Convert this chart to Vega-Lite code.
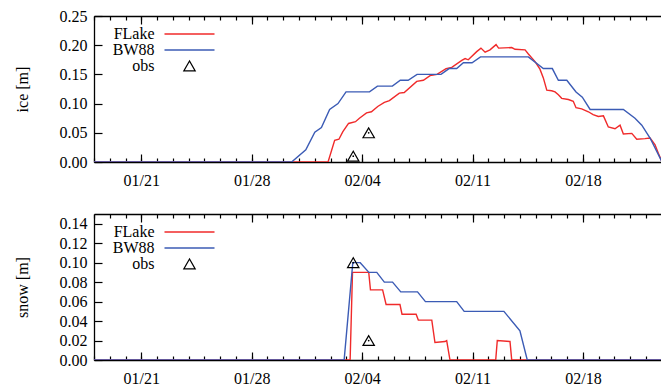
{
  "$schema": "https://vega.github.io/schema/vega-lite/v6.json",
  "background": "white",
  "padding": {"left": 14, "top": 8, "right": 0, "bottom": 0},
  "config": {
    "view": {"stroke": null},
    "font": "Liberation Serif",
    "axis": {"labelFont": "Liberation Serif", "labelFontSize": 16, "labelColor": "black", "titleFont": "Liberation Serif", "titleFontSize": 16, "titleFontWeight": "normal", "titleColor": "black", "domainColor": "black", "tickColor": "black", "domainWidth": 1.3, "tickWidth": 1.2, "grid": false, "zindex": 1},
    "legend": {"labelFont": "Liberation Serif", "labelFontSize": 16, "labelColor": "black"},
    "concat": {"spacing": 25}
  },
  "datasets": {
    "ice": [
      {"t": "2018-01-18T00:00", "v": 0, "s": "FLake"},
      {"t": "2018-02-01T20:10", "v": 0, "s": "FLake"},
      {"t": "2018-02-02T06:14", "v": 0.037, "s": "FLake"},
      {"t": "2018-02-02T12:43", "v": 0.039, "s": "FLake"},
      {"t": "2018-02-02T18:43", "v": 0.052, "s": "FLake"},
      {"t": "2018-02-03T03:22", "v": 0.066, "s": "FLake"},
      {"t": "2018-02-03T13:55", "v": 0.069, "s": "FLake"},
      {"t": "2018-02-03T19:55", "v": 0.075, "s": "FLake"},
      {"t": "2018-02-04T06:43", "v": 0.084, "s": "FLake"},
      {"t": "2018-02-04T14:10", "v": 0.086, "s": "FLake"},
      {"t": "2018-02-04T23:46", "v": 0.095, "s": "FLake"},
      {"t": "2018-02-05T09:50", "v": 0.102, "s": "FLake"},
      {"t": "2018-02-05T17:31", "v": 0.105, "s": "FLake"},
      {"t": "2018-02-06T08:38", "v": 0.118, "s": "FLake"},
      {"t": "2018-02-06T16:05", "v": 0.119, "s": "FLake"},
      {"t": "2018-02-07T11:08", "v": 0.138, "s": "FLake"},
      {"t": "2018-02-07T21:13", "v": 0.14, "s": "FLake"},
      {"t": "2018-02-08T07:24", "v": 0.148, "s": "FLake"},
      {"t": "2018-02-08T18:00", "v": 0.15, "s": "FLake"},
      {"t": "2018-02-09T07:44", "v": 0.16, "s": "FLake"},
      {"t": "2018-02-09T16:29", "v": 0.162, "s": "FLake"},
      {"t": "2018-02-10T07:42", "v": 0.174, "s": "FLake"},
      {"t": "2018-02-10T12:44", "v": 0.177, "s": "FLake"},
      {"t": "2018-02-10T17:32", "v": 0.175, "s": "FLake"},
      {"t": "2018-02-11T06:22", "v": 0.189, "s": "FLake"},
      {"t": "2018-02-11T12:50", "v": 0.195, "s": "FLake"},
      {"t": "2018-02-11T19:11", "v": 0.188, "s": "FLake"},
      {"t": "2018-02-12T02:37", "v": 0.192, "s": "FLake"},
      {"t": "2018-02-12T11:50", "v": 0.201, "s": "FLake"},
      {"t": "2018-02-12T15:41", "v": 0.195, "s": "FLake"},
      {"t": "2018-02-13T11:42", "v": 0.196, "s": "FLake"},
      {"t": "2018-02-13T16:44", "v": 0.193, "s": "FLake"},
      {"t": "2018-02-14T07:58", "v": 0.192, "s": "FLake"},
      {"t": "2018-02-14T13:00", "v": 0.185, "s": "FLake"},
      {"t": "2018-02-14T23:11", "v": 0.172, "s": "FLake"},
      {"t": "2018-02-15T06:37", "v": 0.159, "s": "FLake"},
      {"t": "2018-02-15T11:46", "v": 0.144, "s": "FLake"},
      {"t": "2018-02-15T17:02", "v": 0.123, "s": "FLake"},
      {"t": "2018-02-16T00:29", "v": 0.122, "s": "FLake"},
      {"t": "2018-02-16T05:37", "v": 0.12, "s": "FLake"},
      {"t": "2018-02-16T10:40", "v": 0.115, "s": "FLake"},
      {"t": "2018-02-16T15:42", "v": 0.109, "s": "FLake"},
      {"t": "2018-02-17T01:53", "v": 0.107, "s": "FLake"},
      {"t": "2018-02-17T09:19", "v": 0.104, "s": "FLake"},
      {"t": "2018-02-17T13:30", "v": 0.093, "s": "FLake"},
      {"t": "2018-02-17T22:08", "v": 0.091, "s": "FLake"},
      {"t": "2018-02-18T08:19", "v": 0.086, "s": "FLake"},
      {"t": "2018-02-18T15:31", "v": 0.081, "s": "FLake"},
      {"t": "2018-02-18T23:26", "v": 0.078, "s": "FLake"},
      {"t": "2018-02-19T07:13", "v": 0.079, "s": "FLake"},
      {"t": "2018-02-19T14:40", "v": 0.06, "s": "FLake"},
      {"t": "2018-02-20T00:50", "v": 0.057, "s": "FLake"},
      {"t": "2018-02-20T08:31", "v": 0.063, "s": "FLake"},
      {"t": "2018-02-20T13:34", "v": 0.048, "s": "FLake"},
      {"t": "2018-02-21T02:23", "v": 0.049, "s": "FLake"},
      {"t": "2018-02-21T09:55", "v": 0.039, "s": "FLake"},
      {"t": "2018-02-21T22:24", "v": 0.04, "s": "FLake"},
      {"t": "2018-02-22T06:11", "v": 0.041, "s": "FLake"},
      {"t": "2018-02-22T13:37", "v": 0.03, "s": "FLake"},
      {"t": "2018-02-22T18:46", "v": 0.015, "s": "FLake"},
      {"t": "2018-02-23T00:30", "v": 0, "s": "FLake"},
      {"t": "2018-01-18T00:00", "v": 0, "s": "BW88"},
      {"t": "2018-01-30T12:43", "v": 0, "s": "BW88"},
      {"t": "2018-01-31T10:19", "v": 0.021, "s": "BW88"},
      {"t": "2018-02-01T00:00", "v": 0.051, "s": "BW88"},
      {"t": "2018-02-01T10:05", "v": 0.059, "s": "BW88"},
      {"t": "2018-02-01T22:34", "v": 0.09, "s": "BW88"},
      {"t": "2018-02-02T11:17", "v": 0.1, "s": "BW88"},
      {"t": "2018-02-02T23:31", "v": 0.12, "s": "BW88"},
      {"t": "2018-02-04T11:17", "v": 0.12, "s": "BW88"},
      {"t": "2018-02-04T23:17", "v": 0.13, "s": "BW88"},
      {"t": "2018-02-05T22:05", "v": 0.13, "s": "BW88"},
      {"t": "2018-02-06T10:05", "v": 0.14, "s": "BW88"},
      {"t": "2018-02-06T22:05", "v": 0.14, "s": "BW88"},
      {"t": "2018-02-07T11:37", "v": 0.15, "s": "BW88"},
      {"t": "2018-02-09T00:04", "v": 0.15, "s": "BW88"},
      {"t": "2018-02-09T12:20", "v": 0.16, "s": "BW88"},
      {"t": "2018-02-09T23:55", "v": 0.16, "s": "BW88"},
      {"t": "2018-02-10T10:06", "v": 0.17, "s": "BW88"},
      {"t": "2018-02-10T23:20", "v": 0.17, "s": "BW88"},
      {"t": "2018-02-11T12:07", "v": 0.18, "s": "BW88"},
      {"t": "2018-02-14T13:00", "v": 0.18, "s": "BW88"},
      {"t": "2018-02-15T11:46", "v": 0.16, "s": "BW88"},
      {"t": "2018-02-16T01:28", "v": 0.16, "s": "BW88"},
      {"t": "2018-02-16T10:40", "v": 0.14, "s": "BW88"},
      {"t": "2018-02-16T23:29", "v": 0.14, "s": "BW88"},
      {"t": "2018-02-17T13:30", "v": 0.12, "s": "BW88"},
      {"t": "2018-02-17T23:06", "v": 0.111, "s": "BW88"},
      {"t": "2018-02-18T10:58", "v": 0.09, "s": "BW88"},
      {"t": "2018-02-20T13:34", "v": 0.09, "s": "BW88"},
      {"t": "2018-02-21T07:15", "v": 0.075, "s": "BW88"},
      {"t": "2018-02-21T17:36", "v": 0.063, "s": "BW88"},
      {"t": "2018-02-22T06:11", "v": 0.041, "s": "BW88"},
      {"t": "2018-02-23T00:30", "v": 0, "s": "BW88"},
      {"t": "2018-02-03T10:30", "v": 0.01, "s": "obs"},
      {"t": "2018-02-04T10:00", "v": 0.05, "s": "obs"}
    ],
    "snow": [
      {"t": "2018-01-18T00:00", "v": 0, "s": "FLake"},
      {"t": "2018-02-03T05:46", "v": 0, "s": "FLake"},
      {"t": "2018-02-03T09:22", "v": 0.09, "s": "FLake"},
      {"t": "2018-02-04T10:05", "v": 0.09, "s": "FLake"},
      {"t": "2018-02-04T12:43", "v": 0.072, "s": "FLake"},
      {"t": "2018-02-05T07:12", "v": 0.072, "s": "FLake"},
      {"t": "2018-02-05T12:29", "v": 0.057, "s": "FLake"},
      {"t": "2018-02-06T09:36", "v": 0.057, "s": "FLake"},
      {"t": "2018-02-06T12:43", "v": 0.047, "s": "FLake"},
      {"t": "2018-02-07T10:11", "v": 0.047, "s": "FLake"},
      {"t": "2018-02-07T13:32", "v": 0.041, "s": "FLake"},
      {"t": "2018-02-08T10:02", "v": 0.041, "s": "FLake"},
      {"t": "2018-02-08T14:50", "v": 0.018, "s": "FLake"},
      {"t": "2018-02-09T06:04", "v": 0.019, "s": "FLake"},
      {"t": "2018-02-09T08:42", "v": 0.02, "s": "FLake"},
      {"t": "2018-02-09T13:44", "v": 0, "s": "FLake"},
      {"t": "2018-02-12T11:18", "v": 0, "s": "FLake"},
      {"t": "2018-02-12T13:42", "v": 0.02, "s": "FLake"},
      {"t": "2018-02-13T09:02", "v": 0.019, "s": "FLake"},
      {"t": "2018-02-13T11:42", "v": 0, "s": "FLake"},
      {"t": "2018-02-23T00:00", "v": 0, "s": "FLake"},
      {"t": "2018-01-18T00:00", "v": 0, "s": "BW88"},
      {"t": "2018-02-02T20:38", "v": 0, "s": "BW88"},
      {"t": "2018-02-03T09:50", "v": 0.1, "s": "BW88"},
      {"t": "2018-02-03T21:07", "v": 0.1, "s": "BW88"},
      {"t": "2018-02-04T10:19", "v": 0.09, "s": "BW88"},
      {"t": "2018-02-04T22:19", "v": 0.09, "s": "BW88"},
      {"t": "2018-02-05T09:50", "v": 0.08, "s": "BW88"},
      {"t": "2018-02-05T22:19", "v": 0.08, "s": "BW88"},
      {"t": "2018-02-06T10:48", "v": 0.07, "s": "BW88"},
      {"t": "2018-02-07T12:20", "v": 0.07, "s": "BW88"},
      {"t": "2018-02-08T00:22", "v": 0.06, "s": "BW88"},
      {"t": "2018-02-09T23:55", "v": 0.06, "s": "BW88"},
      {"t": "2018-02-10T11:18", "v": 0.05, "s": "BW88"},
      {"t": "2018-02-12T23:46", "v": 0.05, "s": "BW88"},
      {"t": "2018-02-14T00:09", "v": 0.03, "s": "BW88"},
      {"t": "2018-02-14T11:19", "v": 0, "s": "BW88"},
      {"t": "2018-02-23T00:00", "v": 0, "s": "BW88"},
      {"t": "2018-02-03T10:30", "v": 0.1, "s": "obs"},
      {"t": "2018-02-04T10:00", "v": 0.02, "s": "obs"}
    ]
  },
  "vconcat": [
    {
      "width": 567,
      "height": 146,
      "data": {"name": "ice"},
      "layer": [
        {
          "transform": [{"filter": "datum.s === 'FLake'"}],
          "mark": {"type": "line", "clip": true, "strokeWidth": 1.4},
          "encoding": {
            "x": {"field": "t", "type": "temporal",
              "scale": {"domain": [{"year": 2018, "month": 1, "date": 18}, {"year": 2018, "month": 2, "date": 22, "hours": 22, "minutes": 50}], "nice": false},
              "axis": {"orient": "bottom", "title": null, "format": "%m/%d", "values": [{"year": 2018, "month": 1, "date": 21}, {"year": 2018, "month": 1, "date": 28}, {"year": 2018, "month": 2, "date": 4}, {"year": 2018, "month": 2, "date": 11}, {"year": 2018, "month": 2, "date": 18}], "tickSize": -8, "labelPadding": 18, "labelFlush": false, "labelOverlap": false}},
            "y": {"field": "v", "type": "quantitative",
              "scale": {"domain": [0, 0.25], "nice": false},
              "axis": {"title": "ice [m]", "values": [0, 0.05, 0.1, 0.15, 0.2, 0.25], "format": ".2f", "tickSize": -8, "labelPadding": 15, "titlePadding": 29}},
            "color": {"field": "s", "type": "nominal",
              "scale": {"domain": ["FLake", "BW88", "obs"], "range": ["#f02a2a", "#3b5bb5", "#000000"]},
              "legend": {"orient": "none", "legendX": 87.5, "legendY": 10, "title": null, "symbolType": "stroke", "symbolSize": 100, "symbolStrokeWidth": 1.4, "labelAlign": "right", "labelOffset": -43, "rowPadding": -3.5, "padding": 0, "labelFontSize": 16, "labelFont": "Liberation Serif", "labelColor": "black",
                "encode": {"symbols": {"update": {"shape": {"signal": "datum.value === 'obs' ? 'triangle-up' : 'stroke'"}, "size": {"signal": "datum.value === 'obs' ? 130 : 2500"}, "fill": {"value": "transparent"}, "strokeWidth": {"signal": "datum.value === 'obs' ? 1.2 : 1.4"}}}}}}
          }
        },
        {
          "transform": [{"filter": "datum.s === 'BW88'"}],
          "mark": {"type": "line", "clip": true, "strokeWidth": 1.4},
          "encoding": {
            "x": {"field": "t", "type": "temporal", "axis": {"orient": "bottom", "title": null, "labels": false, "domain": false, "tickCount": {"interval": "day", "step": 1}, "tickSize": -4}},
            "y": {"field": "v", "type": "quantitative", "axis": null},
            "color": {"field": "s", "type": "nominal"}
          }
        },
        {
          "transform": [{"filter": "datum.s === 'obs'"}],
          "mark": {"type": "point", "shape": "triangle-up", "filled": false, "size": 130, "strokeWidth": 1.2, "opacity": 1},
          "encoding": {
            "x": {"field": "t", "type": "temporal", "axis": {"orient": "top", "title": null, "labels": false, "domain": true, "values": [{"year": 2018, "month": 1, "date": 21}, {"year": 2018, "month": 1, "date": 28}, {"year": 2018, "month": 2, "date": 4}, {"year": 2018, "month": 2, "date": 11}, {"year": 2018, "month": 2, "date": 18}], "tickSize": -8}},
            "y": {"field": "v", "type": "quantitative", "axis": null},
            "color": {"field": "s", "type": "nominal"}
          }
        },
        {
          "transform": [{"filter": "datum.s === 'obs'"}],
          "mark": {"type": "point", "shape": "circle", "filled": true, "size": 3, "color": "black", "opacity": 1},
          "encoding": {
            "x": {"field": "t", "type": "temporal", "axis": {"orient": "top", "title": null, "labels": false, "domain": false, "tickCount": {"interval": "day", "step": 1}, "tickSize": -4}},
            "y": {"field": "v", "type": "quantitative", "axis": null}
          }
        }
      ],
      "resolve": {"axis": {"x": "independent", "y": "independent"}}
    },
    {
      "width": 567,
      "height": 146,
      "data": {"name": "snow"},
      "layer": [
        {
          "transform": [{"filter": "datum.s === 'FLake'"}],
          "mark": {"type": "line", "clip": true, "strokeWidth": 1.4},
          "encoding": {
            "x": {"field": "t", "type": "temporal",
              "scale": {"domain": [{"year": 2018, "month": 1, "date": 18}, {"year": 2018, "month": 2, "date": 22, "hours": 22, "minutes": 50}], "nice": false},
              "axis": {"orient": "bottom", "title": null, "format": "%m/%d", "values": [{"year": 2018, "month": 1, "date": 21}, {"year": 2018, "month": 1, "date": 28}, {"year": 2018, "month": 2, "date": 4}, {"year": 2018, "month": 2, "date": 11}, {"year": 2018, "month": 2, "date": 18}], "tickSize": -8, "labelPadding": 18, "labelFlush": false, "labelOverlap": false}},
            "y": {"field": "v", "type": "quantitative",
              "scale": {"domain": [0, 0.15], "nice": false},
              "axis": {"title": "snow [m]", "values": [0, 0.02, 0.04, 0.06, 0.08, 0.1, 0.12, 0.14], "format": ".2f", "tickSize": -8, "labelPadding": 15, "titlePadding": 29}},
            "color": {"field": "s", "type": "nominal",
              "scale": {"domain": ["FLake", "BW88", "obs"], "range": ["#f02a2a", "#3b5bb5", "#000000"]},
              "legend": {"orient": "none", "legendX": 87.5, "legendY": 10, "title": null, "symbolType": "stroke", "symbolSize": 100, "symbolStrokeWidth": 1.4, "labelAlign": "right", "labelOffset": -43, "rowPadding": -3.5, "padding": 0, "labelFontSize": 16, "labelFont": "Liberation Serif", "labelColor": "black",
                "encode": {"symbols": {"update": {"shape": {"signal": "datum.value === 'obs' ? 'triangle-up' : 'stroke'"}, "size": {"signal": "datum.value === 'obs' ? 130 : 2500"}, "fill": {"value": "transparent"}, "strokeWidth": {"signal": "datum.value === 'obs' ? 1.2 : 1.4"}}}}}}
          }
        },
        {
          "transform": [{"filter": "datum.s === 'BW88'"}],
          "mark": {"type": "line", "clip": true, "strokeWidth": 1.4},
          "encoding": {
            "x": {"field": "t", "type": "temporal", "axis": {"orient": "bottom", "title": null, "labels": false, "domain": false, "tickCount": {"interval": "day", "step": 1}, "tickSize": -4}},
            "y": {"field": "v", "type": "quantitative", "axis": null},
            "color": {"field": "s", "type": "nominal"}
          }
        },
        {
          "transform": [{"filter": "datum.s === 'obs'"}],
          "mark": {"type": "point", "shape": "triangle-up", "filled": false, "size": 130, "strokeWidth": 1.2, "opacity": 1},
          "encoding": {
            "x": {"field": "t", "type": "temporal", "axis": {"orient": "top", "title": null, "labels": false, "domain": true, "values": [{"year": 2018, "month": 1, "date": 21}, {"year": 2018, "month": 1, "date": 28}, {"year": 2018, "month": 2, "date": 4}, {"year": 2018, "month": 2, "date": 11}, {"year": 2018, "month": 2, "date": 18}], "tickSize": -8}},
            "y": {"field": "v", "type": "quantitative", "axis": null},
            "color": {"field": "s", "type": "nominal"}
          }
        },
        {
          "transform": [{"filter": "datum.s === 'obs'"}],
          "mark": {"type": "point", "shape": "circle", "filled": true, "size": 3, "color": "black", "opacity": 1},
          "encoding": {
            "x": {"field": "t", "type": "temporal", "axis": {"orient": "top", "title": null, "labels": false, "domain": false, "tickCount": {"interval": "day", "step": 1}, "tickSize": -4}},
            "y": {"field": "v", "type": "quantitative", "axis": null}
          }
        }
      ],
      "resolve": {"axis": {"x": "independent", "y": "independent"}}
    }
  ],
  "resolve": {"scale": {"color": "independent"}, "legend": {"color": "independent"}}
}
